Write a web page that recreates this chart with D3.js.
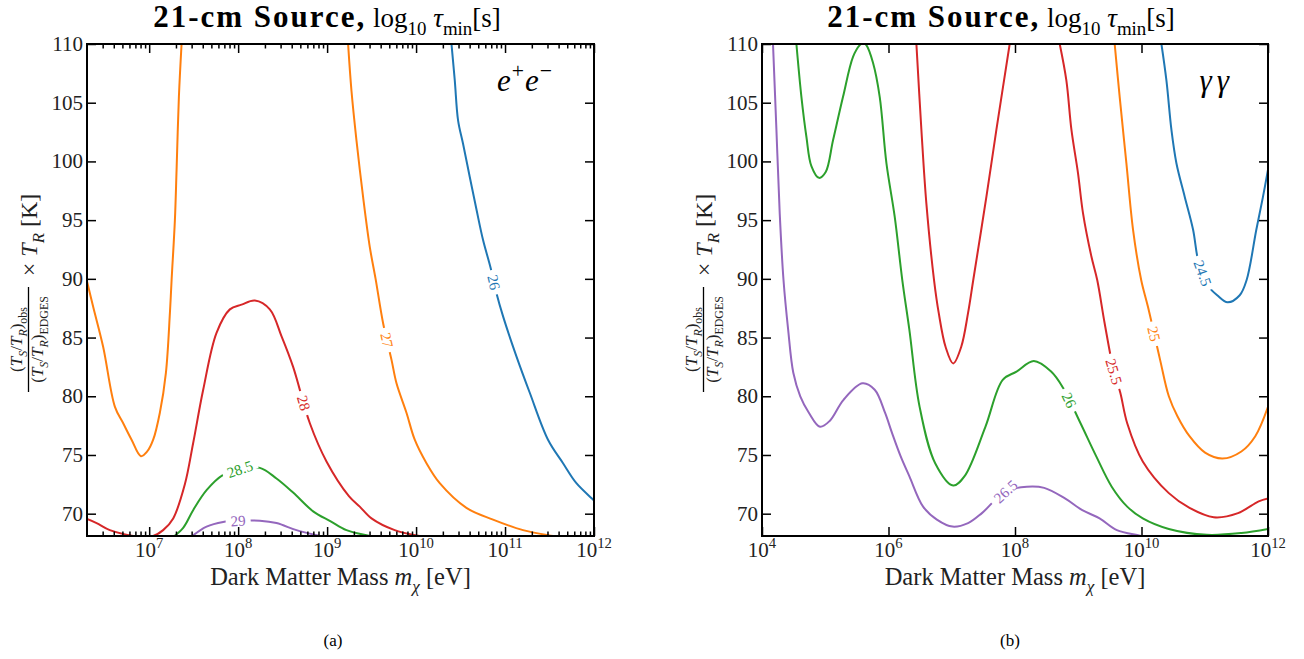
<!DOCTYPE html>
<html>
<head>
<meta charset="utf-8">
<script src="https://cdn.jsdelivr.net/npm/d3@7"></script>
<style>
  body { margin: 0; background: #fff; }
</style>
</head>
<body>
<svg id="fig" width="1304" height="659"></svg>
<script>
// contour lines, each point = [log10 m_chi (eV), temperature ratio x T_R (K)]
// (a) e+e- channel
var ee26 = [[10.398,110],[10.435,106.9],[10.472,103.5],[10.528,101.5],[10.603,98.7],[10.679,95.9],[10.753,93.3],[10.839,90.9],[10.903,88.8],[10.978,86.8],[11.128,83.4],[11.278,80.3],[11.483,76.3],[11.652,74.3],[11.802,72.6],[11.989,71.2],[12.0,71.1]];
var ee27a = [[6.301,89.8],[6.371,87.6],[6.483,84.2],[6.615,79.1],[6.708,77.7],[6.802,76.3],[6.907,74.9],[6.978,75.3],[7.045,76.3],[7.12,78.6],[7.188,82.0],[7.233,87.1],[7.252,89.9],[7.289,95.0],[7.308,99.3],[7.334,105.5],[7.364,110]];
var ee27b = [[9.236,110],[9.274,106],[9.33,101.8],[9.404,97],[9.48,92.7],[9.545,90],[9.63,86.2],[9.724,83.1],[9.78,81.1],[9.892,78.6],[9.985,76.3],[10.117,74.3],[10.266,72.6],[10.566,70.5],[10.865,69.5],[11.202,68.6],[11.54,68.1],[11.7,67.9]];
var ee28 = [[6.301,69.55],[6.409,69.2],[6.558,68.6],[6.82,68.1],[6.95,68.0],[7.045,68.1],[7.157,68.6],[7.27,69.6],[7.401,72.5],[7.494,76.0],[7.607,80.55],[7.757,85.4],[7.907,87.4],[8.038,87.8],[8.188,88.15],[8.356,87.4],[8.488,85.1],[8.618,82.5],[8.806,77.7],[8.993,74.45],[9.245,71.5],[9.367,70.6],[9.499,69.6],[9.76,68.6],[10.04,68.1],[10.2,67.9]];
var ee285 = [[7.25,67.9],[7.382,68.8],[7.494,70.3],[7.645,72.0],[7.831,73.3],[8.02,73.8],[8.244,73.9],[8.431,73.0],[8.618,71.8],[8.843,70.2],[9.04,69.35],[9.218,68.6],[9.48,68.1],[9.6,67.9]];
var ee29 = [[7.45,67.9],[7.645,68.9],[7.831,69.3],[8.0,69.4],[8.244,69.4],[8.431,69.2],[8.656,68.6],[8.918,68.1],[9.0,67.95]];

// (b) gamma gamma channel
var gg245 = [[10.315,110],[10.394,106.9],[10.473,102.7],[10.552,99.85],[10.683,97.0],[10.815,94.2],[10.894,91.6],[10.98,90.3],[11.06,89.35],[11.197,88.6],[11.361,88.0],[11.553,88.6],[11.662,89.9],[11.816,94.2],[11.921,97.0],[12.0,99.3]];
var gg25 = [[9.576,110],[9.655,105.5],[9.761,99.85],[9.866,94.2],[9.995,89.9],[10.103,87.6],[10.294,83.1],[10.432,80.0],[10.568,78.3],[10.759,76.6],[11.005,75.2],[11.279,74.7],[11.579,75.3],[11.799,76.6],[12.0,79.1]];
var gg255a = [[6.441,110],[6.52,102.7],[6.599,96.4],[6.72,89.9],[6.794,87.1],[6.903,84.2],[7.023,82.8],[7.149,84.2],[7.258,87.1],[7.34,89.9],[7.548,97],[7.706,102.7],[7.916,110]];
var gg255b = [[8.707,110],[8.812,106.9],[8.892,102.7],[8.996,99.0],[9.075,95.6],[9.208,91.9],[9.3,89.9],[9.418,86.2],[9.56,82.2],[9.665,80.3],[9.774,77.7],[10.02,74.45],[10.432,71.75],[10.759,70.5],[11.142,69.7],[11.526,70.05],[11.853,71.05],[12.0,71.3]];
var gg26 = [[4.544,110],[4.623,105.5],[4.702,102.1],[4.781,99.6],[4.901,98.6],[5.007,99.1],[5.123,101.8],[5.281,105.5],[5.439,108.9],[5.545,109.9],[5.6,110.1],[5.65,109.9],[5.755,108.4],[5.861,105.5],[5.967,99.85],[6.098,95.3],[6.218,89.9],[6.329,85.7],[6.492,79.1],[6.738,74.3],[7.023,72.4],[7.203,73.2],[7.532,77.4],[7.806,81.4],[8.024,82.1],[8.297,83.0],[8.571,82.1],[8.762,80.7],[9.036,77.7],[9.283,74.9],[9.529,72.3],[9.774,70.6],[10.02,69.6],[10.432,68.7],[11.032,68.2],[11.579,68.35],[12.0,68.7]];
var gg265 = [[4.174,110],[4.228,102.7],[4.28,95.6],[4.34,89.9],[4.413,85.7],[4.495,82.0],[4.605,80.0],[4.741,78.6],[4.917,77.4],[5.07,77.9],[5.289,79.7],[5.589,81.1],[5.782,80.55],[5.945,78.6],[6.054,76.9],[6.191,74.9],[6.329,73.2],[6.547,70.6],[6.765,69.5],[7.012,68.9],[7.258,69.2],[7.477,70.05],[7.85,71.9],[8.188,72.3],[8.462,72.2],[8.79,71.3],[9.064,70.3],[9.337,69.6],[9.611,68.6],[9.994,68.1],[10.1,67.9]];

// tick values
var yTicks = [70, 75, 80, 85, 90, 95, 100, 105, 110];
var eeMajor = [7, 8, 9, 10, 11, 12];
var ggMajor = [4, 6, 8, 10, 12];

var FONT = "'Liberation Serif', 'DejaVu Serif', serif";
var C = {blue: "#1f77b4", orange: "#ff7f0e", green: "#2ca02c", red: "#d62728", purple: "#9467bd"};

var panels = [
  {
    x0: 87, x1: 594, xDomain: [2e6, 1e12], major: eeMajor, minor: true,
    title: 327, caption: "(a)", capX: 333,
    tag: [{t: "e", it: true}, {t: "+", sup: true}, {t: "e", it: true}, {t: "\u2212", sup: true}], tagX: 553, tagSpace: 1,
    curves: [
      {d: ee26, c: C.blue, lab: "26", at: [10.87, 89.7]},
      {d: ee27a, c: C.orange},
      {d: ee27b, c: C.orange, lab: "27", at: [9.68, 84.8]},
      {d: ee28, c: C.red, lab: "28", at: [8.75, 79.45]},
      {d: ee285, c: C.green, lab: "28.5", at: [8.02, 73.8]},
      {d: ee29, c: C.purple, lab: "29", at: [8.0, 69.4]}
    ]
  },
  {
    x0: 762, x1: 1268, xDomain: [1e4, 1e12], major: ggMajor, minor: false,
    title: 1001, caption: "(b)", capX: 1010,
    tag: [{t: "\u03b3\u03b3", it: true}], tagX: 1234, tagSpace: 5,
    curves: [
      {d: gg245, c: C.blue, lab: "24.5", at: [10.975, 90.5]},
      {d: gg25, c: C.orange, lab: "25", at: [10.185, 85.3]},
      {d: gg255a, c: C.red},
      {d: gg255b, c: C.red, lab: "25.5", at: [9.56, 82.1]},
      {d: gg26, c: C.green, lab: "26", at: [8.87, 79.7]},
      {d: gg265, c: C.purple, lab: "26.5", at: [7.85, 71.9]}
    ]
  }
];

var svg = d3.select("#fig");
var top_ = 44, bottom = 536;

// append tspans with sub/superscripts
function rich(sel, parts, size) {
  var shift = 0;
  parts.forEach(function(p) {
    var s = p.size || size;
    var target = p.sub ? s * 0.28 : (p.sup ? -s * 0.42 : 0);
    sel.append("tspan")
      .attr("dy", target - shift)
      .attr("font-size", (p.sub || p.sup) ? s * 0.7 : s)
      .attr("font-style", p.it ? "italic" : null)
      .attr("font-weight", p.b ? "bold" : null)
      .attr("letter-spacing", p.ls || null)
      .text(p.t);
    shift = target;
  });
}

panels.forEach(function(p, pi) {
  var x = d3.scaleLog().domain(p.xDomain).range([p.x0, p.x1]);
  var y = d3.scaleLinear().domain([68.1, 110]).range([bottom, top_]);
  var g = svg.append("g");

  g.append("clipPath").attr("id", "clip" + pi)
    .append("rect").attr("x", p.x0).attr("y", top_)
    .attr("width", p.x1 - p.x0).attr("height", bottom - top_);

  var line = d3.line()
    .x(function(d) { return x(Math.pow(10, d[0])); })
    .y(function(d) { return y(d[1]); })
    .curve(d3.curveCatmullRom.alpha(0.5));

  var plot = g.append("g").attr("clip-path", "url(#clip" + pi + ")");
  plot.selectAll(".contour")
    .data(p.curves)
    .enter().append("path")
    .attr("class", "contour")
    .attr("d", function(c) { return line(c.d); })
    .attr("fill", "none")
    .attr("stroke", function(c) { return c.c; })
    .attr("stroke-width", 2);

  // inline contour labels
  p.curves.filter(function(c) { return c.lab; }).forEach(function(c) {
    var pts = c.d.map(function(d) { return [x(Math.pow(10, d[0])), y(d[1])]; });
    var ax = x(Math.pow(10, c.at[0])), ay = y(c.at[1]);
    var best = null;
    for (var i = 0; i < pts.length - 1; i++) {
      var a = pts[i], b = pts[i + 1];
      var vx = b[0] - a[0], vy = b[1] - a[1];
      var t = ((ax - a[0]) * vx + (ay - a[1]) * vy) / (vx * vx + vy * vy);
      t = Math.max(0, Math.min(1, t));
      var qx = a[0] + t * vx, qy = a[1] + t * vy;
      var dist = Math.hypot(qx - ax, qy - ay);
      if (!best || dist < best.dist) best = {dist: dist, x: qx, y: qy, ang: Math.atan2(vy, vx) * 180 / Math.PI};
    }
    var ang = best.ang;
    if (ang > 90) ang -= 180;
    if (ang <= -90) ang += 180;
    var lg = plot.append("g").attr("transform", "translate(" + best.x + "," + best.y + ") rotate(" + ang + ")");
    var bg = lg.append("rect").attr("fill", "#fff");
    var txt = lg.append("text")
      .attr("text-anchor", "middle")
      .attr("dy", "0.35em")
      .attr("font-family", FONT)
      .attr("font-size", 15)
      .attr("fill", c.c)
      .text(c.lab);
    var w = txt.node().getComputedTextLength() + 10;
    bg.attr("x", -w / 2).attr("y", -5).attr("width", w).attr("height", 10);
  });

  // ticks, all pointing inward
  g.append("g").attr("transform", "translate(0," + bottom + ")")
    .call(d3.axisBottom(x).tickValues(p.major.map(function(e) { return Math.pow(10, e); })).tickSize(-9).tickFormat(""));
  g.append("g").attr("transform", "translate(0," + top_ + ")")
    .call(d3.axisTop(x).tickValues(p.major.map(function(e) { return Math.pow(10, e); })).tickSize(-9).tickFormat(""));
  if (p.minor) {
    var minors = [];
    for (var e = 6; e < 12; e++) {
      for (var k = 2; k < 10; k++) {
        var v = k * Math.pow(10, e);
        if (v > p.xDomain[0] && v < p.xDomain[1]) minors.push(v);
      }
    }
    g.append("g").attr("transform", "translate(0," + bottom + ")")
      .call(d3.axisBottom(x).tickValues(minors).tickSize(-4.5).tickFormat(""));
    g.append("g").attr("transform", "translate(0," + top_ + ")")
      .call(d3.axisTop(x).tickValues(minors).tickSize(-4.5).tickFormat(""));
  }
  g.append("g").attr("transform", "translate(" + p.x0 + ",0)")
    .call(d3.axisLeft(y).tickValues(yTicks).tickSize(-9).tickFormat(""));
  g.append("g").attr("transform", "translate(" + p.x1 + ",0)")
    .call(d3.axisRight(y).tickValues(yTicks).tickSize(-9).tickFormat(""));
  g.selectAll(".domain").remove();
  g.selectAll(".tick line").attr("stroke", "#000").attr("stroke-width", 1.5);

  g.append("rect")
    .attr("x", p.x0).attr("y", top_)
    .attr("width", p.x1 - p.x0).attr("height", bottom - top_)
    .attr("fill", "none").attr("stroke", "#000").attr("stroke-width", 2);

  // tick labels
  p.major.forEach(function(e) {
    var t = g.append("text")
      .attr("x", x(Math.pow(10, e))).attr("y", 557)
      .attr("text-anchor", "middle")
      .attr("font-family", FONT).attr("fill", "#222");
    rich(t, [{t: "10"}, {t: String(e), sup: true}], 21);
  });
  yTicks.forEach(function(v) {
    g.append("text")
      .attr("x", p.x0 - 4).attr("y", y(v) + 7)
      .attr("text-anchor", "end")
      .attr("font-family", FONT).attr("font-size", 21).attr("fill", "#222")
      .text(v);
  });

  // x axis label
  var xl = g.append("text")
    .attr("x", (p.x0 + p.x1) / 2).attr("y", 585)
    .attr("text-anchor", "middle")
    .attr("font-family", FONT).attr("fill", "#222");
  rich(xl, [{t: "Dark Matter Mass "}, {t: "m", it: true}, {t: "\u03c7", it: true, sub: true}, {t: " [eV]"}], 24.5);

  // y axis label: fraction x T_R [K]
  var yl = g.append("g")
    .attr("transform", "translate(" + p.x0 + "," + ((top_ + bottom) / 2) + ") rotate(-90)")
    .attr("font-family", FONT).attr("fill", "#222");
  yl.append("line")
    .attr("x1", -102).attr("x2", 3)
    .attr("y1", -58.5).attr("y2", -58.5)
    .attr("stroke", "#000").attr("stroke-width", 1.3);
  var num = yl.append("text").attr("x", -49.5).attr("y", -65).attr("text-anchor", "middle");
  rich(num, [{t: "("}, {t: "T", it: true}, {t: "S", it: true, sub: true}, {t: "/"}, {t: "T", it: true},
             {t: "R", it: true, sub: true}, {t: ")"}, {t: "obs", sub: true}], 17);
  var den = yl.append("text").attr("x", -49.5).attr("y", -44).attr("text-anchor", "middle");
  rich(den, [{t: "("}, {t: "T", it: true}, {t: "S", it: true, sub: true}, {t: "/"}, {t: "T", it: true},
             {t: "R", it: true, sub: true}, {t: ")"}, {t: "EDGES", sub: true}], 17);
  var rest = yl.append("text").attr("x", 55).attr("y", -50).attr("text-anchor", "middle");
  rich(rest, [{t: "\u00d7 "}, {t: "T", it: true}, {t: "R", it: true, sub: true}, {t: " [K]"}], 24);

  // title
  var tt = g.append("text")
    .attr("x", p.title).attr("y", 27)
    .attr("text-anchor", "middle")
    .attr("font-family", FONT).attr("fill", "#000");
  rich(tt, [{t: "21-cm Source,", b: true, size: 31, ls: 2}, {t: " log"}, {t: "10", sub: true}, {t: " \u03c4", it: true},
            {t: "min", sub: true}, {t: "[s]"}], 27);

  // channel tag
  var tg = g.append("text")
    .attr("x", p.tagX).attr("y", 91)
    .attr("text-anchor", "end")
    .attr("font-family", FONT).attr("fill", "#000")
    .attr("letter-spacing", p.tagSpace);
  rich(tg, p.tag, 31);

  // sub-figure caption
  g.append("text")
    .attr("x", p.capX).attr("y", 646)
    .attr("text-anchor", "middle")
    .attr("font-family", FONT).attr("font-size", 17).attr("fill", "#000")
    .text(p.caption);
});
</script>
</body>
</html>
